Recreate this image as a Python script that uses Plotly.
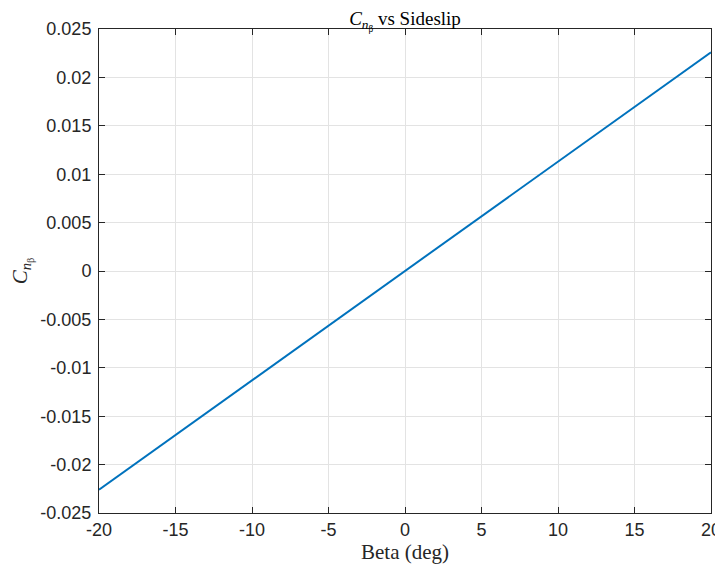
import plotly.graph_objects as go

# sideslip angle (deg) and yaw moment derivative
beta = [-20, -15, -10, -5, 0, 5, 10, 15, 20]
cn_beta = [-0.0226, -0.01695, -0.0113, -0.00565, 0.0, 0.00565, 0.0113, 0.01695, 0.0226]

x_ticks = [-20, -15, -10, -5, 0, 5, 10, 15, 20]
x_labels = ["-20", "-15", "-10", "-5", "0", "5", "10", "15", "20"]
y_ticks = [-0.025, -0.02, -0.015, -0.01, -0.005, 0, 0.005, 0.01, 0.015, 0.02, 0.025]
y_labels = ["-0.025", "-0.02", "-0.015", "-0.01", "-0.005", "0",
            "0.005", "0.01", "0.015", "0.02", "0.025"]

serif = "Liberation Serif, DejaVu Serif, serif"
sans = "Liberation Sans, Arial, sans-serif"

fig = go.Figure()
fig.add_trace(go.Scatter(x=beta, y=cn_beta, mode="lines",
                         line=dict(color="#0072BD", width=2), showlegend=False))

axis_style = dict(showline=True, linecolor="#262626", linewidth=1, mirror="ticks",
                  ticks="inside", ticklen=6, tickcolor="#262626",
                  showgrid=True, gridcolor="#e3e3e3", gridwidth=1,
                  zeroline=False, automargin=False,
                  tickfont=dict(family=sans, size=18, color="#262626"))

fig.update_xaxes(range=[-20, 20], tickvals=x_ticks, ticktext=x_labels,
                 title=dict(text="Beta (deg)", font=dict(family=serif, size=21, color="#262626"),
                            standoff=4),
                 **axis_style)
fig.update_yaxes(range=[-0.025, 0.025], tickvals=y_ticks, ticktext=y_labels,
                 ticklabelstandoff=3,
                 title=dict(text="<i>C</i><sub><i>n</i><sub>β</sub></sub>",
                            font=dict(family=serif, size=21, color="#262626"), standoff=10),
                 **axis_style)

# page body has an 8px margin, so the figure starts at (8, 8)
fig.update_layout(
    width=715, height=565,
    margin=dict(l=91, r=12, t=21, b=60, autoexpand=False),
    paper_bgcolor="white", plot_bgcolor="white",
    title=dict(text="<i>C</i><sub><i>n</i><sub>β</sub></sub> vs Sideslip",
               font=dict(family=serif, size=19, color="#000000"),
               x=0.5, xanchor="center", xref="paper",
               y=1, yanchor="bottom", yref="paper", pad=dict(b=4)),
)

fig.write_html("out.html")
